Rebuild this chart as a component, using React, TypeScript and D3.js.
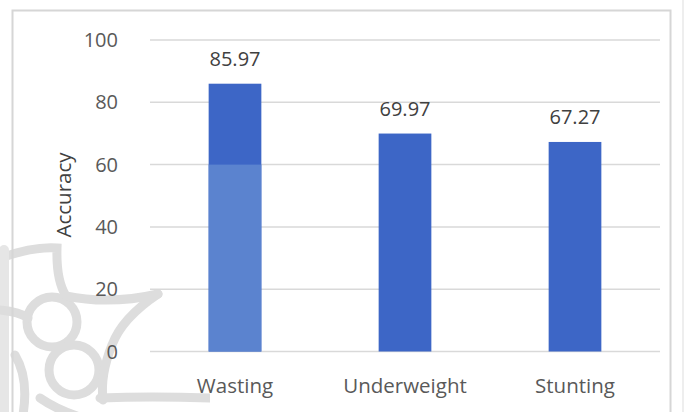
import React from "react";
import * as d3 from "d3";

const categories = ["Wasting", "Underweight", "Stunting"];
const accuracy = [85.97, 69.97, 67.27];
const yTicks = [0, 20, 40, 60, 80, 100];
const valueLabels = ["85.97", "69.97", "67.27"];

const W = 691;
const H = 412;
const FONT = "'Open Sans', 'Noto Sans', sans-serif";

export default function App() {
  const x = d3.scaleBand<string>().domain(categories).range([150, 660]).paddingInner(0.69).paddingOuter(0.345);
  const y = d3.scaleLinear().domain([0, 100]).range([351.5, 40]);

  const wm = "#dddddd";
  return (
    <svg width={W} height={H} style={{ position: "absolute", left: 0, top: 0, background: "#fff" }}>
      <defs>
        <clipPath id="wmclip">
          <rect x={0} y={225} width={210} height={200} />
        </clipPath>
      </defs>
      <rect x={0} y={0} width={W} height={H} fill="#fff" />
      {/* watermark */}
      <g clipPath="url(#wmclip)" fill="none" stroke={wm} strokeWidth={9} strokeLinecap="round">
        <circle cx={52} cy={322} r={25} />
        <circle cx={74} cy={370} r={25} />
        <path d="M -10 262 Q 30 246 57 248 Q 56 280 66 296 Q 110 305 158 294" />
        <path d="M 158 294 Q 122 318 112 345 Q 100 375 103 400" />
        <path d="M 100 398 Q 150 396 210 398" />
        <path d="M 4 250 L 4 420" strokeWidth={10} stroke="#e6e6e6" />
        <path d="M 0 310 Q 20 312 28 318" />
        <path d="M 15 355 Q 30 380 22 420" />
        <path d="M 40 398 Q 60 412 90 420" />
      </g>
      {/* chart border */}
      <rect x={12.5} y={10.5} width={658} height={420} fill="none" stroke="#d6d6d6" strokeWidth={2} />
      <line x1={683} x2={683} y1={0} y2={H} stroke="#eeeeee" strokeWidth={2} />
      {/* gridlines */}
      {yTicks.map((t) => (
        <line key={t} x1={150} x2={660} y1={y(t)} y2={y(t)} stroke="#d9d9d9" strokeWidth={1.5} />
      ))}
      {/* tick labels */}
      {yTicks.map((t) => (
        <text key={"l" + t} x={118} y={y(t)} dy="0.35em" textAnchor="end" fontFamily={FONT} fontSize={20} fill="#595959">
          {t}
        </text>
      ))}
      {/* axis title */}
      <text transform="translate(71,195) rotate(-90)" textAnchor="middle" fontFamily={FONT} fontSize={20.5} fill="#404040">
        Accuracy
      </text>
      {/* bars */}
      {categories.map((c, i) => (
        <g key={c}>
          <rect x={x(c)} y={y(accuracy[i])} width={x.bandwidth()} height={y(0) - y(accuracy[i])} fill="#3d66c6" />
          {i === 0 && (
            <rect x={x(c)} y={y(60)} width={x.bandwidth()} height={y(0) - y(60)} fill="#5b83cf" />
          )}
          <text x={(x(c) as number) + x.bandwidth() / 2} y={y(accuracy[i]) - 18} textAnchor="middle" fontFamily={FONT} fontSize={20} fill="#404040">
            {valueLabels[i]}
          </text>
          <text x={(x(c) as number) + x.bandwidth() / 2} y={393} textAnchor="middle" fontFamily={FONT} fontSize={20.5} fill="#595959">
            {c}
          </text>
        </g>
      ))}
    </svg>
  );
}
